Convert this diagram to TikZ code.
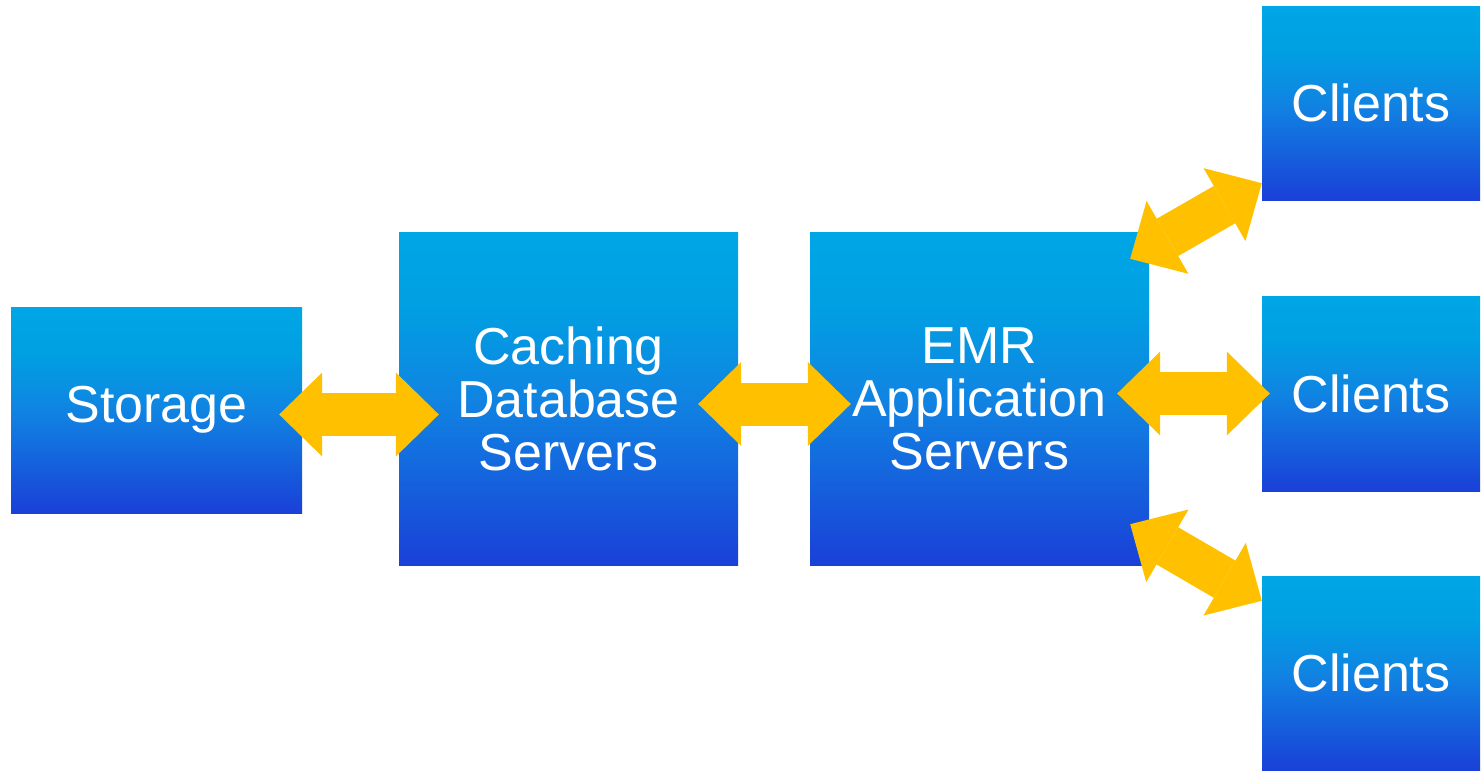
\documentclass[tikz,border=0pt]{standalone}
\usepackage{fontspec}
\setmainfont{Liberation Sans}
\usetikzlibrary{arrows.meta}
\definecolor{arrowyellow}{RGB}{255,192,0}
\definecolor{boxtop}{RGB}{0,166,229}
\definecolor{boxtopb}{RGB}{0,160,226}
\definecolor{boxmid}{RGB}{16,132,226}
\definecolor{boxbot}{RGB}{26,64,216}
\pgfdeclareverticalshading{boxshade}{100bp}{color(0bp)=(boxbot); color(25bp)=(boxbot); color(50bp)=(boxmid); color(64bp)=(boxtopb); color(75bp)=(boxtop); color(100bp)=(boxtop)}
\tikzset{
  box/.style={shading=boxshade, inner sep=0pt, text=white, align=center,
    font=\fontsize{52}{53}\selectfont},
  bigarrow/.style={draw=arrowyellow, line width=43pt,
    {Triangle[length=43pt,width=84pt,line width=0pt]}-{Triangle[length=43pt,width=84pt,line width=0pt]}}
}
\begin{document}
\begin{tikzpicture}[x=1pt,y=-1pt]
\useasboundingbox (0,0) rectangle (1484,771);
\node[box, minimum width=291pt, minimum height=206pt] (st) at (156.5,410) {Storage};
\node[box, minimum width=339pt, minimum height=333pt] (cache) at (568.5,398.5) {Caching\\Database\\Servers};
\node[box, minimum width=339pt, minimum height=333pt] (emr) at (979.5,398.5) {EMR\\Application\\Servers};
\node[box, minimum width=218pt, minimum height=194pt] (c1) at (1371,103) {Clients};
\node[box, minimum width=218pt, minimum height=195pt] (c2) at (1371,393.5) {Clients};
\node[box, minimum width=218pt, minimum height=194pt] (c3) at (1371,673) {Clients};
\draw[bigarrow] ([shift={(-23,4.5)}]st.east) -- ([shift={(40,16)}]cache.west);
\draw[bigarrow] ([shift={(-40,5.5)}]cache.east) -- ([shift={(41,5.5)}]emr.west);
\draw[bigarrow] ([shift={(-32,-5)}]emr.east) -- ([shift={(8,0)}]c2.west);
\draw[bigarrow] ([shift={(-19,27)}]emr.north east) -- ([shift={(0,-17)}]c1.south west);
\draw[bigarrow] ([shift={(-19,-41)}]emr.south east) -- ([shift={(0,25)}]c3.north west);
\end{tikzpicture}
\end{document}
